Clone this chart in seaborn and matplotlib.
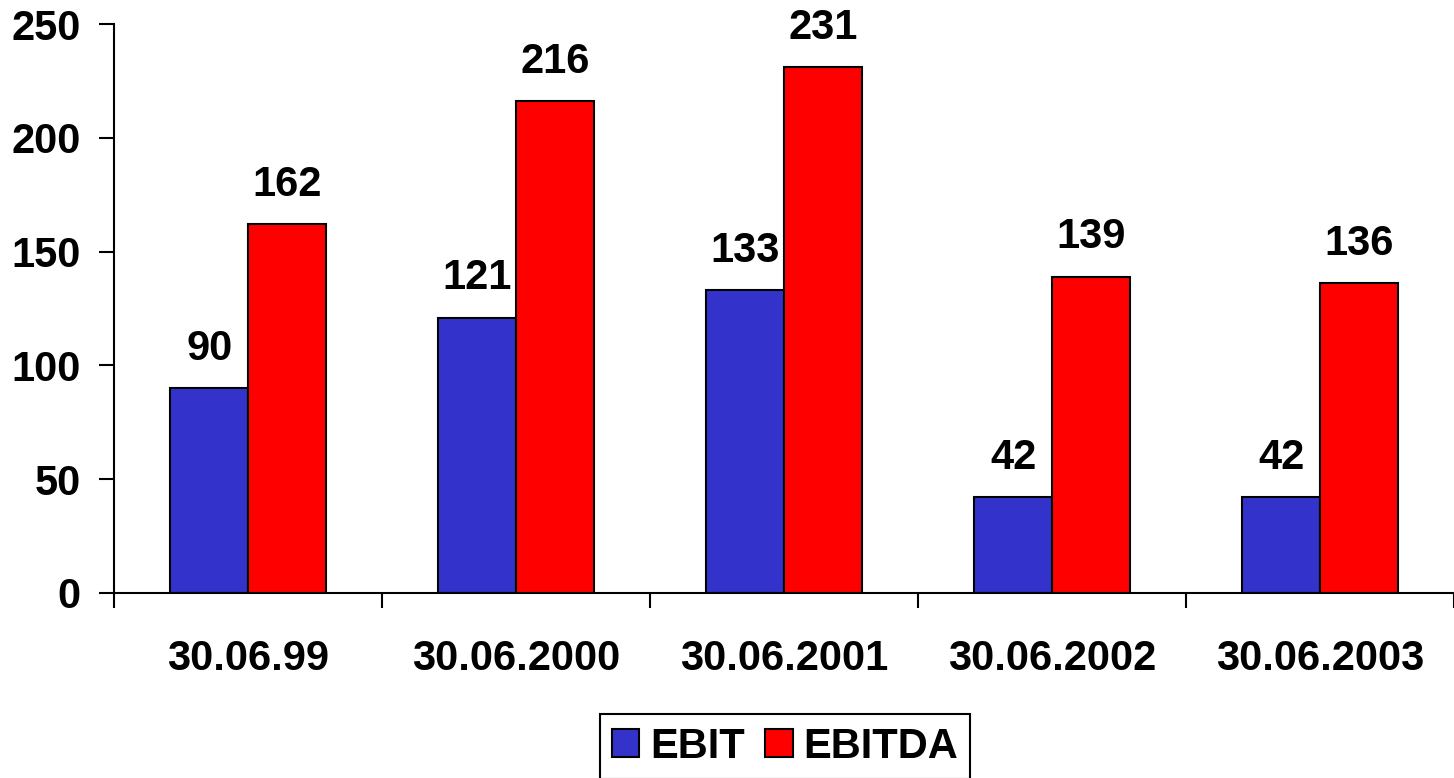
import matplotlib
matplotlib.use('Agg')
import matplotlib.pyplot as plt
import pandas as pd
import seaborn as sns
from matplotlib.ticker import FixedLocator

# chart data
dates = ['30.06.99', '30.06.2000', '30.06.2001', '30.06.2002', '30.06.2003']
ebit = [90, 121, 133, 42, 42]
ebitda = [162, 216, 231, 139, 136]

df = pd.DataFrame({'date': dates * 2,
                   'value': ebit + ebitda,
                   'series': ['EBIT'] * len(dates) + ['EBITDA'] * len(dates)})

sns.set_style('white')
plt.rcParams['font.family'] = ['Liberation Sans', 'DejaVu Sans']
plt.rcParams['font.weight'] = 'bold'
plt.rcParams['text.color'] = 'black'
plt.rcParams['xtick.color'] = 'black'
plt.rcParams['ytick.color'] = 'black'
plt.rcParams['axes.labelcolor'] = 'black'

fig = plt.figure(figsize=(14.54, 7.78), dpi=100)
ax = fig.add_axes([114 / 1454, 1 - 593 / 778, 1 - 114 / 1454, (593 - 24) / 778])

sns.barplot(data=df, x='date', y='value', hue='series', ax=ax,
            palette={'EBIT': '#3333CC', 'EBITDA': '#FF0000'},
            width=0.58, edgecolor='black', linewidth=1.5, saturation=1,
            errorbar=None)

for c in ax.containers:
    ax.bar_label(c, fmt='%d', padding=14, fontsize=30, fontweight='bold', color='black')

ax.set_ylim(0, 250)
ax.set_xlim(-0.5, 4.5)
ax.set_yticks(range(0, 251, 50))
ax.set_xlabel('')
ax.set_ylabel('')
ax.tick_params(axis='y', length=11, width=1.5, pad=13, labelsize=30, left=True,
               color='black', labelcolor='black')
ax.tick_params(axis='x', which='major', length=0, pad=33, labelsize=30, labelcolor='black')
ax.xaxis.set_minor_locator(FixedLocator([i - 0.5 for i in range(len(dates) + 1)]))
ax.tick_params(axis='x', which='minor', length=11, width=1.5, bottom=True, color='black')
for lbl in ax.get_xticklabels() + ax.get_yticklabels():
    lbl.set_fontweight('bold')

sns.despine(ax=ax, top=True, right=True)
for s in ['left', 'bottom']:
    ax.spines[s].set_color('black')
    ax.spines[s].set_linewidth(1.5)

ax.legend_.remove()
handles, labels = ax.get_legend_handles_labels()
leg = fig.legend(handles, labels, loc='upper center', bbox_to_anchor=(785 / 1454, 1 - 714 / 778),
                 borderaxespad=0, ncol=2, frameon=True, fancybox=False, edgecolor='black',
                 framealpha=1, prop={'size': 30, 'weight': 'bold'},
                 handlelength=0.65, handleheight=0.65,
                 handletextpad=0.25, columnspacing=0.5, borderpad=0.3)
leg.get_frame().set_linewidth(1.5)
for t in leg.get_texts():
    t.set_color('black')

fig.savefig('out.png', dpi=100)
